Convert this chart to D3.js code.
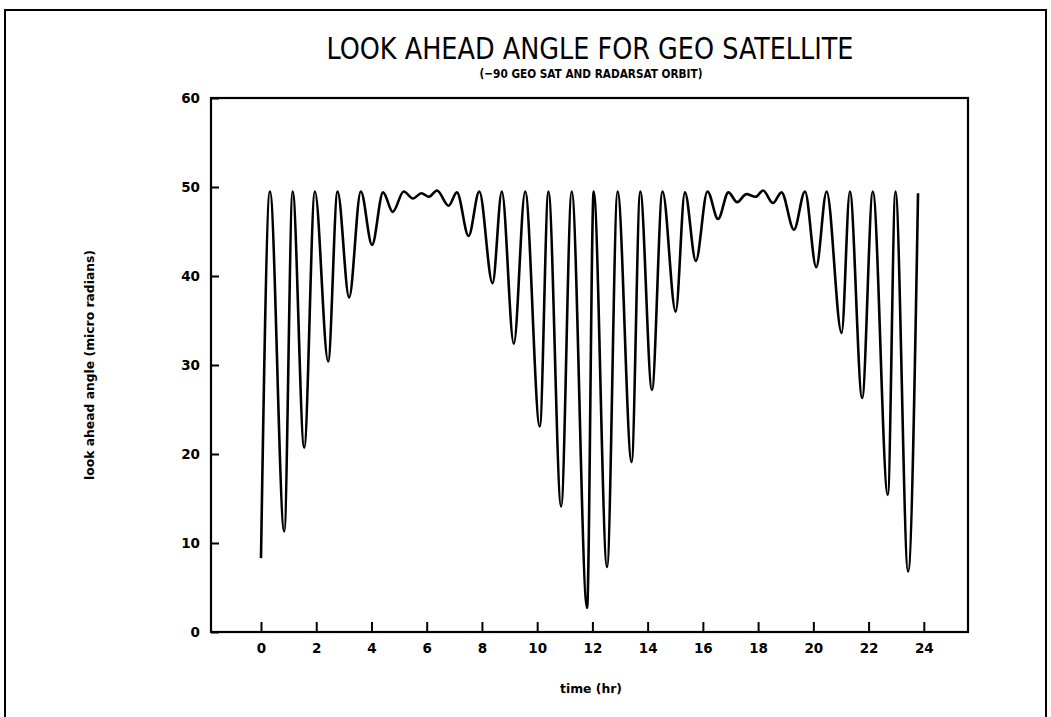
<!DOCTYPE html>
<html>
<head>
<meta charset="utf-8">
<script src="https://cdn.jsdelivr.net/npm/d3@7"></script>
<style>
  body { margin: 0; background: #fff; }
  svg { display: block; }
  .tick text { font-family: "DejaVu Sans", sans-serif; font-weight: bold; font-size: 13.5px; fill: #000; }
</style>
</head>
<body>
<div id="vis"></div>
<script>
// peaks and troughs (time in hr, angle in micro radians)
const times = [
  0, 0.325, 0.842, 1.146, 1.565, 1.952, 2.432, 2.772, 3.191, 3.614,
  4.022, 4.420, 4.771, 5.168, 5.504, 5.808, 6.082, 6.372, 6.794, 7.094,
  7.517, 7.904, 8.385, 8.721, 9.154, 9.566, 10.094, 10.408, 10.867, 11.251,
  11.807, 12.046, 12.530, 12.913, 13.419, 13.733, 14.156, 14.539, 15.016, 15.349,
  15.746, 16.166, 16.552, 16.925, 17.239, 17.575, 17.915, 18.179, 18.540, 18.847,
  19.299, 19.697, 20.105, 20.481, 21.023, 21.323, 21.767, 22.154, 22.696, 22.974,
  23.430, 23.791
];
const angles = [
  8.3, 49.5, 11.3, 49.5, 20.7, 49.5, 30.4, 49.5, 37.6, 49.5,
  43.5, 49.4, 47.2, 49.5, 48.7, 49.3, 48.9, 49.6, 47.9, 49.4,
  44.5, 49.5, 39.2, 49.5, 32.4, 49.5, 23.1, 49.5, 14.1, 49.5,
  2.7, 49.5, 7.3, 49.5, 19.1, 49.5, 27.2, 49.5, 36.0, 49.4,
  41.7, 49.5, 46.4, 49.4, 48.3, 49.2, 48.9, 49.6, 48.2, 49.4,
  45.2, 49.5, 41.0, 49.5, 33.6, 49.5, 26.3, 49.5, 15.4, 49.5,
  6.8, 49.3
];
const xTicks = [0, 2, 4, 6, 8, 10, 12, 14, 16, 18, 20, 22, 24];
const yTicks = [0, 10, 20, 30, 40, 50, 60];

const width = 1051;
const height = 717;
const plot = { left: 211, right: 968, top: 98, bottom: 632 };

const svg = d3.select('#vis')
    .append('svg')
    .attr('width', width)
    .attr('height', height);

// page frame
svg.append('path')
    .attr('d', `M5,${height} V10 H1046 V${height}`)
    .attr('fill', 'none')
    .attr('stroke', '#000')
    .attr('stroke-width', 2);

const x = d3.scaleLinear().domain([-1.81, 25.6]).range([plot.left, plot.right]);
const y = d3.scaleLinear().domain([0, 60]).range([plot.bottom, plot.top]);

svg.append('text')
    .attr('x', 590).attr('y', 59)
    .attr('text-anchor', 'middle')
    .attr('font-family', '"Liberation Sans Narrow", "DejaVu Sans Condensed", sans-serif')
    .attr('font-size', 30)
    .attr('textLength', 527)
    .attr('lengthAdjust', 'spacingAndGlyphs')
    .text('LOOK AHEAD ANGLE FOR GEO SATELLITE');

svg.append('text')
    .attr('x', 591).attr('y', 78)
    .attr('text-anchor', 'middle')
    .attr('font-family', '"DejaVu Sans Condensed", "DejaVu Sans", sans-serif')
    .attr('font-weight', 'bold')
    .attr('font-size', 13)
    .attr('textLength', 223)
    .attr('lengthAdjust', 'spacingAndGlyphs')
    .text('(\u221290 GEO SAT AND RADARSAT ORBIT)');

// axes
const xAxis = svg.append('g')
    .attr('transform', `translate(0,${plot.bottom})`)
    .call(d3.axisBottom(x).tickValues(xTicks).tickSize(-10).tickPadding(11));
xAxis.select('.domain').remove();
xAxis.selectAll('.tick line').attr('stroke', '#000').attr('stroke-width', 2);

const yAxis = svg.append('g')
    .attr('transform', `translate(${plot.left},0)`)
    .call(d3.axisLeft(y).tickValues(yTicks).tickSize(-8).tickPadding(11));
yAxis.select('.domain').remove();
yAxis.selectAll('.tick line').attr('stroke', '#000').attr('stroke-width', 2);

svg.append('rect')
    .attr('x', plot.left).attr('y', plot.top)
    .attr('width', plot.right - plot.left)
    .attr('height', plot.bottom - plot.top)
    .attr('fill', 'none')
    .attr('stroke', '#000')
    .attr('stroke-width', 2.2);

svg.append('text')
    .attr('x', 591).attr('y', 693)
    .attr('text-anchor', 'middle')
    .attr('font-family', '"DejaVu Sans", sans-serif')
    .attr('font-weight', 'bold')
    .attr('font-size', 12)
    .attr('textLength', 62)
    .attr('lengthAdjust', 'spacingAndGlyphs')
    .text('time (hr)');

svg.append('text')
    .attr('transform', 'translate(94,365) rotate(-90)')
    .attr('text-anchor', 'middle')
    .attr('font-family', '"DejaVu Sans", sans-serif')
    .attr('font-weight', 'bold')
    .attr('font-size', 12)
    .attr('textLength', 230)
    .attr('lengthAdjust', 'spacingAndGlyphs')
    .text('look ahead angle (micro radians)');

// the curve
const data = times.map((t, i) => ({ t, v: angles[i] }));
const line = d3.line()
    .x(d => x(d.t))
    .y(d => y(d.v))
    .curve(d3.curveMonotoneX);

svg.append('path')
    .datum(data)
    .attr('fill', 'none')
    .attr('stroke', '#000')
    .attr('stroke-width', 2.6)
    .attr('stroke-linejoin', 'round')
    .attr('d', line);
</script>
</body>
</html>
